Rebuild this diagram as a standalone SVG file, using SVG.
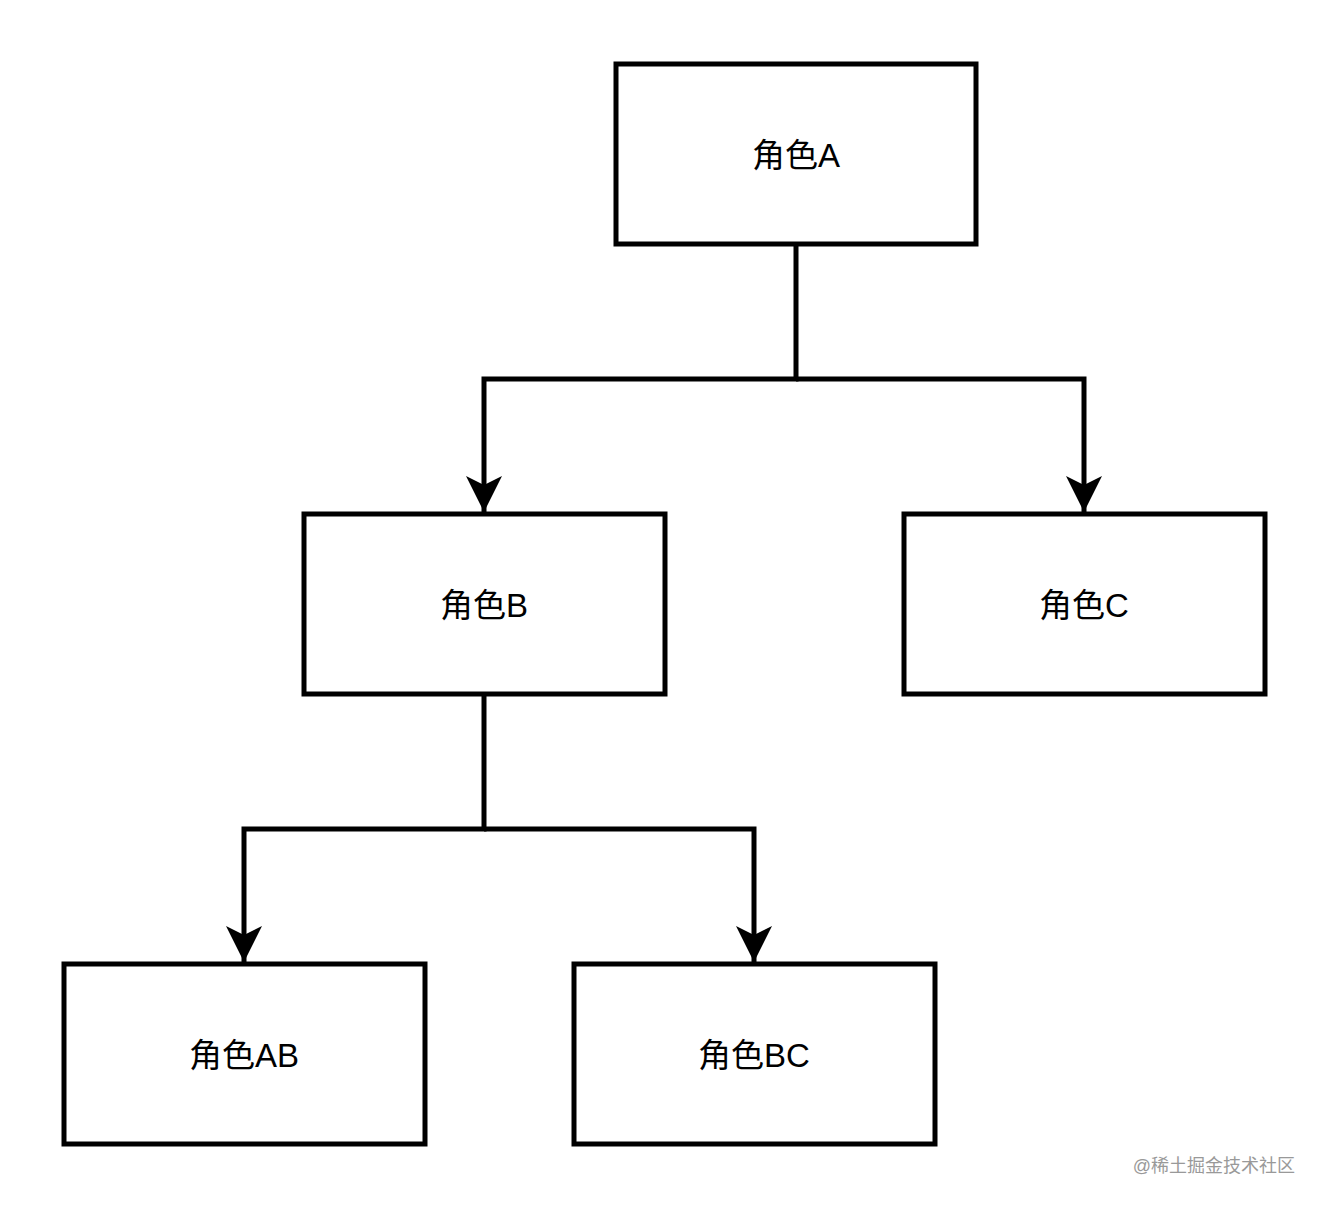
<svg xmlns="http://www.w3.org/2000/svg" width="1326" height="1206" viewBox="0 0 1326 1206">
<style>
.box{fill:#fff;stroke:#000;stroke-width:5}
.lbl{font-family:"Liberation Sans","Noto Sans CJK SC",sans-serif;font-size:33px;fill:#000;text-anchor:middle;dominant-baseline:central}
.edge{fill:none;stroke:#000;stroke-width:5}
</style>
<defs>
<marker id="arr" markerUnits="userSpaceOnUse" markerWidth="40" markerHeight="40" viewBox="0 0 40 40" refX="36" refY="20" orient="auto">
<path d="M0,2 L36,20 L0,38 L9,20 Z" fill="#000"/>
</marker>
</defs>
<rect width="1326" height="1206" fill="#fff"/>
<g id="connectors">
<path class="edge" d="M796,244 V379 H484 V512" marker-end="url(#arr)"/>
<path class="edge" d="M796,379 H1084 V512" marker-end="url(#arr)"/>
<path class="edge" d="M484,694 V829 H244 V962" marker-end="url(#arr)"/>
<path class="edge" d="M484,829 H754 V962" marker-end="url(#arr)"/>
</g>
<g id="nodeA"><rect class="box" x="616" y="64" width="360" height="180"/><text class="lbl" x="796" y="155">角色A</text></g>
<g id="nodeB"><rect class="box" x="304" y="514" width="361" height="180"/><text class="lbl" x="484" y="605">角色B</text></g>
<g id="nodeC"><rect class="box" x="904" y="514" width="361" height="180"/><text class="lbl" x="1084" y="605">角色C</text></g>
<g id="nodeAB"><rect class="box" x="64" y="964" width="361" height="180"/><text class="lbl" x="244" y="1055">角色AB</text></g>
<g id="nodeBC"><rect class="box" x="574" y="964" width="361" height="180"/><text class="lbl" x="754" y="1055">角色BC</text></g>
<text x="1295" y="1166" font-family="'Liberation Sans','Noto Sans CJK SC',sans-serif" font-size="18" fill="#999" text-anchor="end" dominant-baseline="central">@稀土掘金技术社区</text>
</svg>
